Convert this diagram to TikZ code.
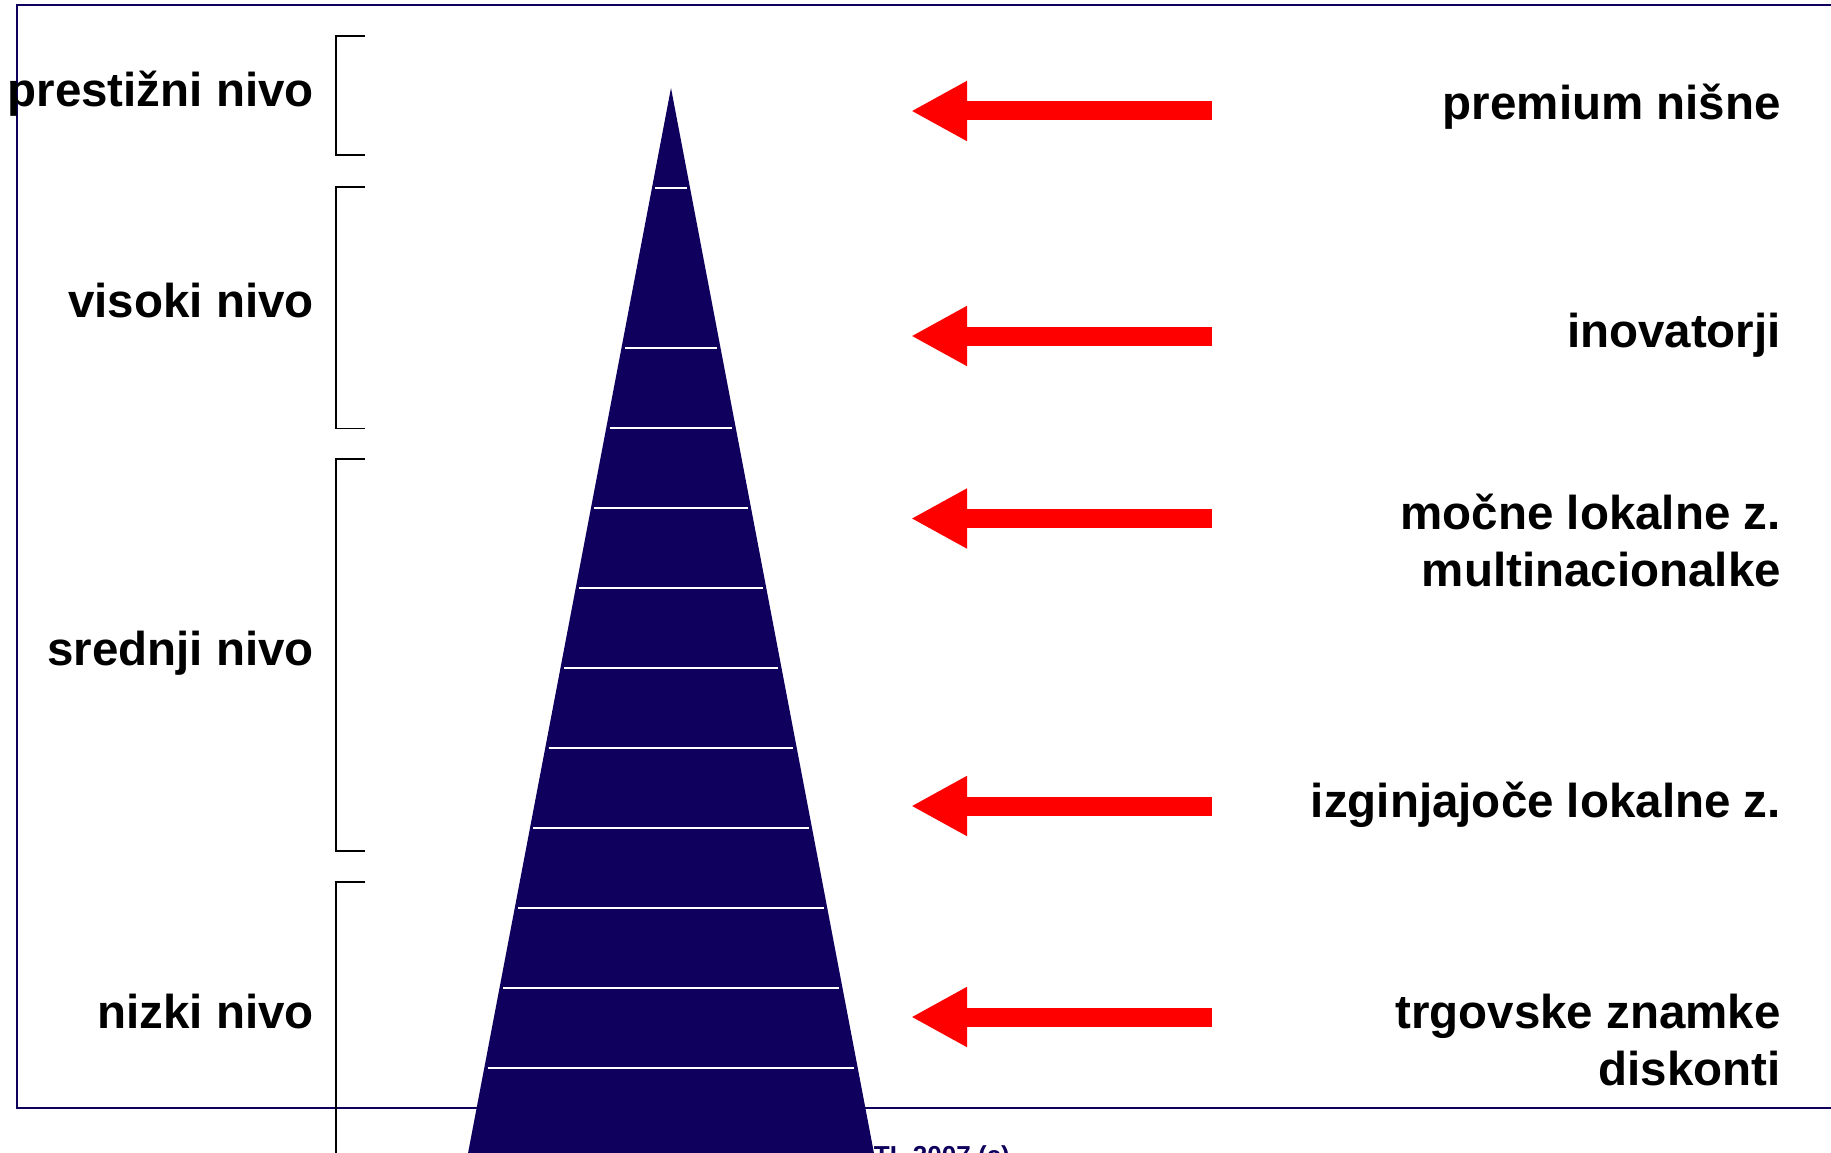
\documentclass[tikz,border=0pt]{standalone}
\usepackage{fontspec}
\setmainfont{Liberation Sans}
\usetikzlibrary{arrows.meta}
\definecolor{pyrnavy}{RGB}{16,0,94}
\definecolor{arrowred}{RGB}{255,0,0}
\begin{document}
\begin{tikzpicture}[x=1pt,y=-1pt,
  lbl/.style={font=\fontsize{47.5}{57}\selectfont\bfseries, inner sep=0pt, align=right},
  bracket/.style={draw=black, line width=1.8pt},
  pointer/.style={draw=arrowred, line width=19pt, -{Triangle[length=56pt,width=56pt]}},
  tier/.style={draw=white, line width=1.8pt}]
\useasboundingbox (0,0) rectangle (1831,1153);
\clip (0,0) rectangle (1831,1153);

% outer frame
\draw[pyrnavy, line width=2pt] (17,5) rectangle (1860,1108);

% footer line, partly hidden by the pyramid
\node[font=\fontsize{26}{30}\selectfont\bfseries, text=pyrnavy, anchor=base east, inner sep=0pt]
  (foot) at (1010,1164) {TL 2007 (c)};

% pyramid
\coordinate (apex) at (671,88);
\fill[pyrnavy] (apex) -- (459.1,1200) -- (882.9,1200) -- cycle;
\foreach \y in {188.3,348.3,428.3,508.3,588.3,668.3,748.3,828.3,908.3,988.3,1068.3} {
  \pgfmathsetmacro\hw{(\y-88)*0.1906-3.5}
  \draw[tier] (671-\hw,\y) -- (671+\hw,\y);
}

% level brackets
\draw[bracket] (365,36)  -- (336,36)  -- (336,155)   -- (365,155);
\draw[bracket] (365,187) -- (336,187) -- (336,428.5) -- (365,428.5);
\draw[bracket] (365,459) -- (336,459) -- (336,851)   -- (365,851);
\draw[bracket] (365,882) -- (336,882) -- (336,1200);

% level labels
\node[lbl, anchor=base east] (prestizni) at (314,107)  {prestižni nivo};
\node[lbl, anchor=base east] (visoki)    at (314,317)  {visoki nivo};
\node[lbl, anchor=base east] (srednji)   at (314,665)  {srednji nivo};
\node[lbl, anchor=base east] (nizki)     at (314,1028) {nizki nivo};

% brand groups (two-line labels are anchored on their last line)
\node[lbl, anchor=base east] (premium)  at (1781,120) {premium nišne};
\node[lbl, anchor=base east] (inov)     at (1781,347) {inovatorji};
\node[lbl, anchor=base east] (mocne)    at (1781,586) {močne lokalne z.\\multinacionalke};
\node[lbl, anchor=base east] (izgin)    at (1781,817) {izginjajoče lokalne z.};
\node[lbl, anchor=base east] (trgovske) at (1781,1085) {trgovske znamke\\diskonti};

% pointers towards the pyramid
\foreach \n/\y in {1/111,2/336,3/518.5,4/806,5/1017} {
  \coordinate (p\n s) at (1212,\y);
  \coordinate (p\n e) at (911,\y);
  \draw[pointer] (p\n s) -- (p\n e);
}
\end{tikzpicture}
\end{document}
